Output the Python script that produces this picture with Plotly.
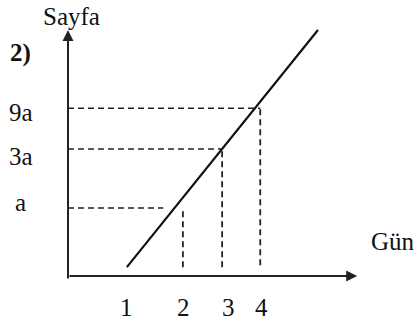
import plotly.graph_objects as go

# --- data (sketch units: x in "day spacing", y in "a height") ---
day_labels = ["1", "2", "3", "4"]
day_pos = [1.05, 2.05, 2.75, 3.43]
level_labels = ["a", "3a", "9a"]
level_pos = [1.0, 1.87, 2.47]
line_x = [1.05, 4.46]
line_y = [0.13, 3.62]
hline_end = [1.70, 2.75, 3.43]
vline_days = [2.05, 2.75, 3.43]
vline_top = [1.0, 1.87, 2.47]
vline_bottom = [0.13, 0.13, 0.16]

# label nudges (pixels) – styling only
day_label_xshift = [0, 1, 6, 1]
level_label_yshift = [6, -8, -4]

X_RANGE = [0, 5.21]
Y_RANGE = [0, 3.65]
FONT = "Liberation Serif, Times New Roman, serif"
FS = 25


def px(xd):
    return (xd - X_RANGE[0]) / (X_RANGE[1] - X_RANGE[0])


def py(yd):
    return (yd - Y_RANGE[0]) / (Y_RANGE[1] - Y_RANGE[0])


fig = go.Figure()

# horizontal dashed guides
for yv, xe in zip(level_pos, hline_end):
    fig.add_trace(go.Scatter(x=[0, xe], y=[yv, yv], mode="lines",
                             line=dict(color="#222", width=1.5, dash="6px,4px"),
                             hoverinfo="skip", showlegend=False, cliponaxis=False))
# vertical dashed guides
for xv, yt, yb in zip(vline_days, vline_top, vline_bottom):
    fig.add_trace(go.Scatter(x=[xv, xv], y=[yb, yt], mode="lines",
                             line=dict(color="#222", width=1.8, dash="6px,4px"),
                             hoverinfo="skip", showlegend=False, cliponaxis=False))
# main line
fig.add_trace(go.Scatter(x=line_x, y=line_y, mode="lines",
                         line=dict(color="#111", width=2.2),
                         hoverinfo="skip", showlegend=False, cliponaxis=False))

ann = []
# axes with arrows
ann.append(dict(x=0, y=3.62, ax=0, ay=-0.06, xref="x", yref="y", axref="x", ayref="y",
                showarrow=True, arrowhead=2, arrowsize=1.1, arrowwidth=2, arrowcolor="#222", text=""))
ann.append(dict(x=5.16, y=0, ax=0, ay=0, xref="x", yref="y", axref="x", ayref="y",
                showarrow=True, arrowhead=2, arrowsize=1.1, arrowwidth=2, arrowcolor="#222", text=""))

txt = dict(showarrow=False, xref="paper", yref="paper", xanchor="center", yanchor="middle")
# day labels
for lab, xv, dx in zip(day_labels, day_pos, day_label_xshift):
    ann.append(dict(x=px(xv), y=0, text=lab, xshift=dx, yshift=-31,
                    font=dict(family=FONT, size=FS, color="#111"), **txt))
# level labels
for lab, yv, dy in zip(level_labels, level_pos, level_label_yshift):
    ann.append(dict(x=px(-0.84), y=py(yv), text=lab, yshift=dy,
                    font=dict(family=FONT, size=FS, color="#111"), **txt))
# axis titles and problem number
ann.append(dict(x=px(0.054), y=py(3.82), text="Sayfa",
                font=dict(family=FONT, size=FS, color="#111"), **txt))
ann.append(dict(x=px(5.79), y=py(0.51), text="Gün",
                font=dict(family=FONT, size=FS, color="#111"), **txt))
ann.append(dict(x=px(-0.84), y=py(3.28), text="<b>2)</b>",
                font=dict(family=FONT, size=FS, color="#111"), **txt))

fig.update_layout(
    width=417, height=322,
    margin=dict(l=68, r=57, t=28, b=46),
    paper_bgcolor="white", plot_bgcolor="white",
    xaxis=dict(range=X_RANGE, visible=False, fixedrange=True),
    yaxis=dict(range=Y_RANGE, visible=False, fixedrange=True),
    annotations=ann,
)

fig.write_html("out.html", config={"displayModeBar": False},
               post_script="document.body.style.margin='0';document.body.style.overflow='hidden';")
